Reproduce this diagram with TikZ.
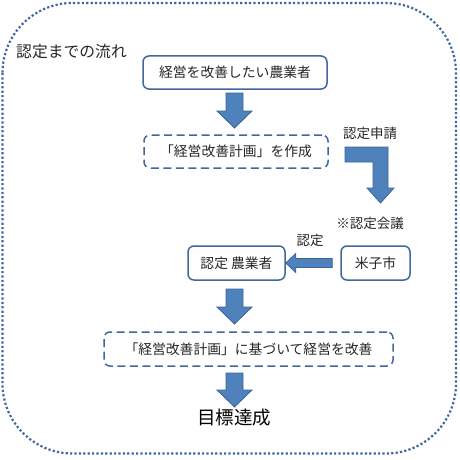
\documentclass[tikz,border=0pt]{standalone}
\usepackage{fontspec}
\setmainfont{Noto Sans CJK JP}
\usetikzlibrary{calc}
\definecolor{boxblue}{HTML}{41679C}
\definecolor{arrfill}{HTML}{4F81BD}
\definecolor{arrline}{HTML}{3A6598}
\definecolor{txt}{HTML}{262626}
\newcommand\fatdown[2]{%
  \draw[fatarr] let \p1=(#1), \p2=(#2) in
    (\x1-8.5pt,\y1) -- (\x1+8.5pt,\y1) -- (\x1+8.5pt,\y2+17pt) -- (\x1+17.5pt,\y2+17pt)
    -- (\x1,\y2) -- (\x1-17.5pt,\y2+17pt) -- (\x1-8.5pt,\y2+17pt) -- cycle;}
\begin{document}
\begin{tikzpicture}[x=1pt,y=-1pt,
  fs/.style={font=\fontsize{#1}{#1}\selectfont},
  solidbox/.style={draw=boxblue,line width=1.5pt,rounded corners=6pt,inner sep=0pt,text=txt,fs=13.8},
  dashbox/.style={solidbox,dash pattern=on 8pt off 4.5pt},
  lbl/.style={inner sep=0pt,text=txt,fs=13.5},
  fatarr/.style={fill=arrfill,draw=arrline,line width=0.8pt,line join=miter}]
\useasboundingbox (0,0) rectangle (460,460);
\draw[boxblue,line width=2.2pt,dash pattern=on 2.2pt off 2.2pt,rounded corners=70pt] (2.5,3) rectangle (456,453.5);
\node[lbl,fs=15.8] (title) at (71.5,52) {認定までの流れ};
\node[solidbox,minimum width=184pt,minimum height=33pt] (b1) at (235,72.5) {経営を改善したい農業者};
\node[dashbox,minimum width=184pt,minimum height=33pt] (b2) at (236,151.5) {「経営改善計画」を作成};
\node[lbl] (shinsei) at (370,133) {認定申請};
\node[lbl] (kaigi) at (370,223) {※認定会議};
\node[lbl] (nintei) at (310,240) {認定};
\node[solidbox,minimum width=97pt,minimum height=34pt] (b3) at (236.5,263) {認定 農業者};
\node[solidbox,minimum width=69pt,minimum height=34pt] (b4) at (375.5,263) {米子市};
\node[dashbox,minimum width=289pt,minimum height=34pt] (b5) at (248.5,349) {「経営改善計画」に基づいて経営を改善};
% arrows
\coordinate (a1s) at (234.5,93); \coordinate (a1e) at (234.5,128);
\fatdown{a1s}{a1e}
\coordinate (a3s) at (234.5,289); \coordinate (a3e) at (234.5,324);
\fatdown{a3s}{a3e}
\coordinate (a4s) at (234.5,373); \coordinate (a4e) at (234.5,407);
\fatdown{a4s}{a4e}
% bent arrow
\coordinate (bs) at (345,154.5); \coordinate (be) at (380.5,203);
\draw[fatarr] let \p1=(bs), \p2=(be) in
  (\x1,\y1+7.5pt) -- (\x2+7.5pt,\y1+7.5pt) -- (\x2+7.5pt,\y2+15pt) -- (\x2+13.5pt,\y2+15pt)
  -- (\x2,\y2) -- (\x2-13.5pt,\y2+15pt) -- (\x2-7.5pt,\y2+15pt) -- (\x2-7.5pt,\y1-7.5pt) -- (\x1,\y1-7.5pt) -- cycle;
% left arrow
\draw[fatarr] let \p1=(b4.west), \p2=(b3.east) in
  (\x1-8pt,\y1-4.5pt) -- (\x2+10pt,\y1-4.5pt) -- (\x2+10pt,\y1-9.5pt) -- (\x2,\y1)
  -- (\x2+10pt,\y1+9.5pt) -- (\x2+10pt,\y1+4.5pt) -- (\x1-8pt,\y1+4.5pt) -- cycle;
\node[inner sep=0pt,text=black,fs=18.5] (goal) at (234,418) {目標達成};
\end{tikzpicture}
\end{document}
